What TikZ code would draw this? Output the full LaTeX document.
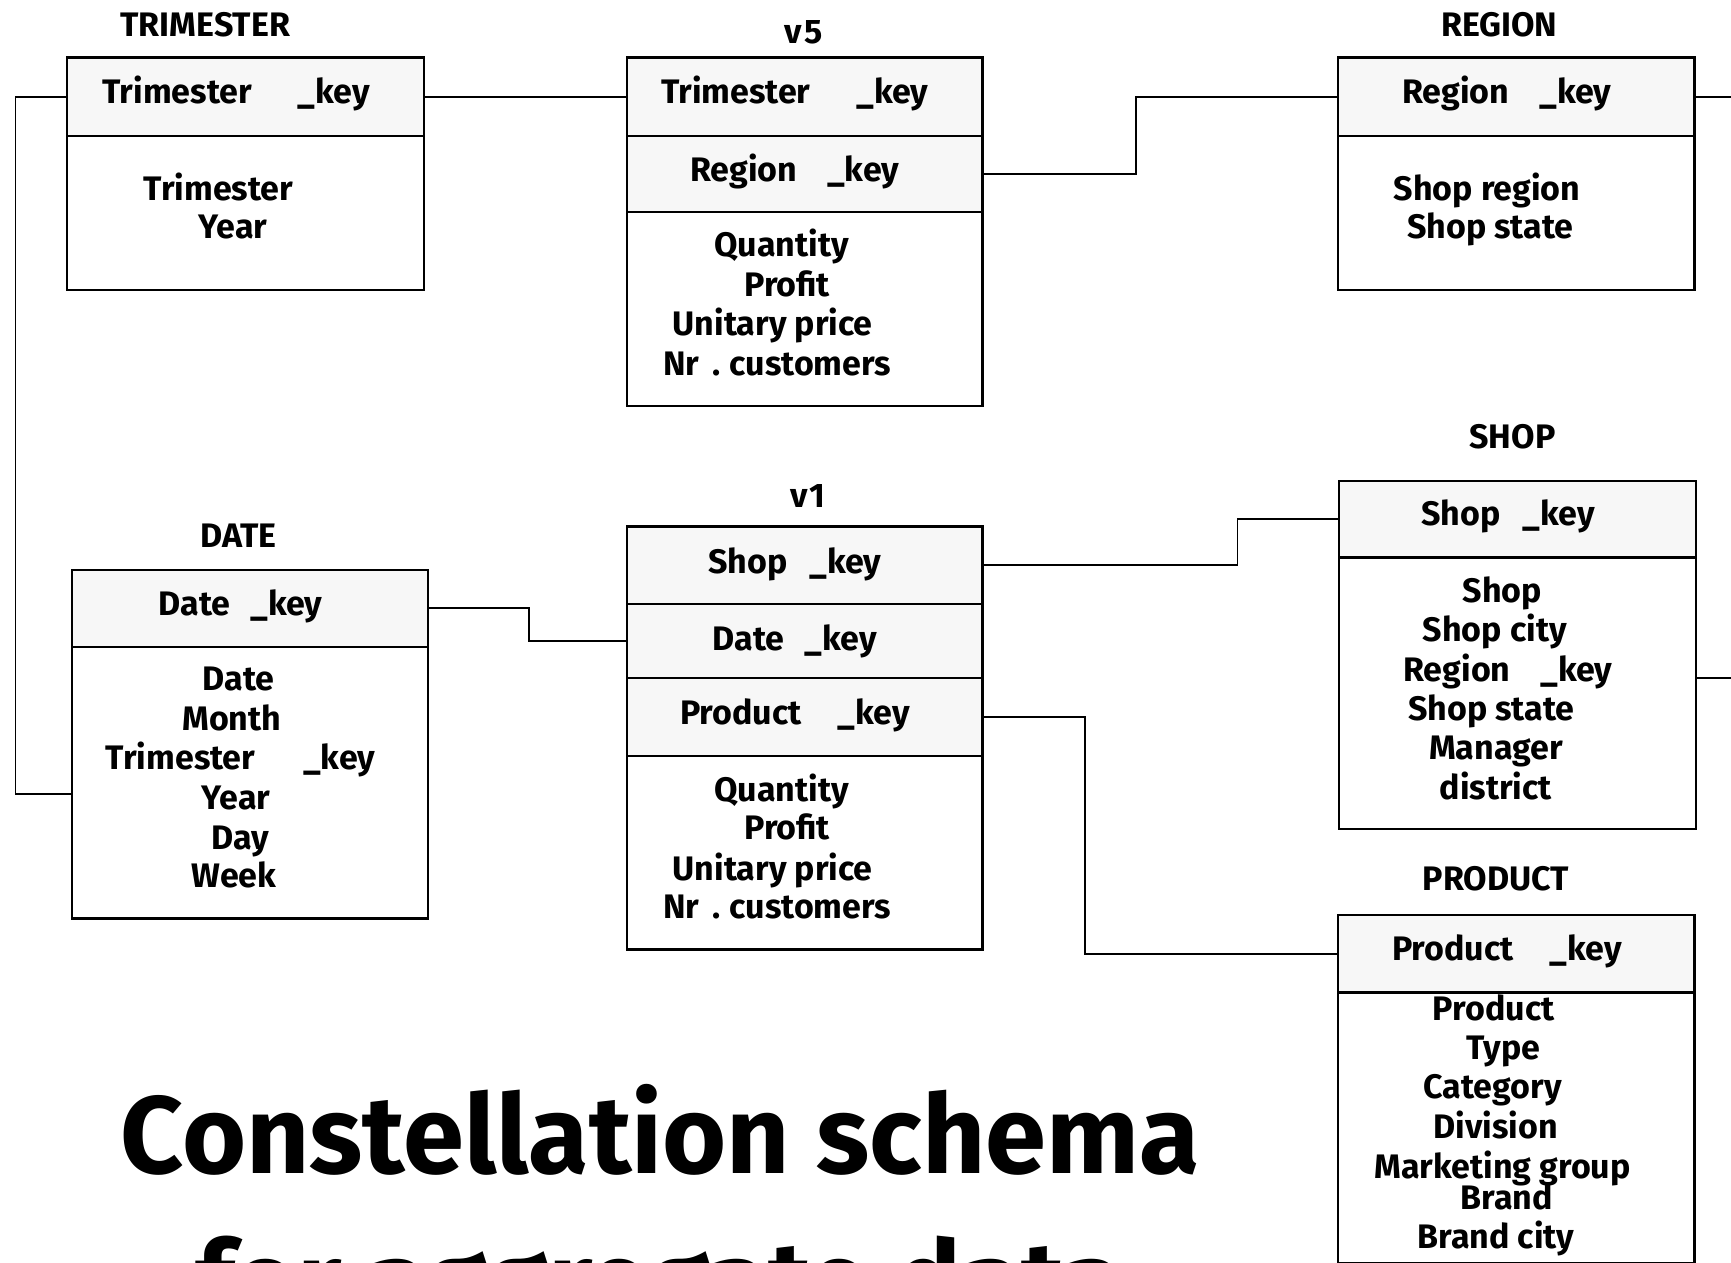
\documentclass[tikz,border=0pt]{standalone}
\usepackage{fontspec}
\setmainfont{Fira Sans}
\newlength\px
\setlength\px{1.104pt}
\definecolor{keyfill}{RGB}{247,247,247}
\newcommand\kgap[1]{\hspace{#1pt}}
\tikzset{
  cell/.style={draw=black, line width=2.2pt, inner sep=0pt, anchor=north west, fill=white},
  keycell/.style={cell, fill=keyfill},
  link/.style={draw=black, line width=1.9pt},
  txt/.style={font=\fontsize{34}{40}\selectfont\bfseries, inner sep=0pt, anchor=mid, yshift=-9.9pt},
  big/.style={font=\fontsize{110}{120}\selectfont\bfseries, inner sep=0pt, anchor=base}
}
\begin{document}
\begin{tikzpicture}[x=1.104pt,y=-1.104pt]
\useasboundingbox (0,0) rectangle (1568,1144);
\clip (0,0) rectangle (1568,1144);
\fill[white] (0,0) rectangle (1568,1144);
\coordinate (edgeR) at (1575,0);

% ---- tables: one node per compartment ----
% TRIMESTER
\node[keycell, minimum width=323*\px, minimum height=71*\px] (th) at (60,51) {};
\node[cell, minimum width=323*\px, minimum height=140*\px] (tb) at (60,122) {};
% v5
\node[keycell, minimum width=322*\px, minimum height=71*\px] (v5a) at (567,51) {};
\node[keycell, minimum width=322*\px, minimum height=69*\px] (v5b) at (567,122) {};
\node[cell, minimum width=322*\px, minimum height=176*\px] (v5c) at (567,191) {};
% REGION
\node[keycell, minimum width=323*\px, minimum height=71*\px] (rh) at (1211,51) {};
\node[cell, minimum width=323*\px, minimum height=140*\px] (rb) at (1211,122) {};
% DATE
\node[keycell, minimum width=323*\px, minimum height=70*\px] (dh) at (64,515) {};
\node[cell, minimum width=323*\px, minimum height=246*\px] (db) at (64,585) {};
% v1
\node[keycell, minimum width=322*\px, minimum height=70*\px] (v1a) at (567,476) {};
\node[keycell, minimum width=322*\px, minimum height=67*\px] (v1b) at (567,546) {};
\node[keycell, minimum width=322*\px, minimum height=71*\px] (v1c) at (567,613) {};
\node[cell, minimum width=322*\px, minimum height=175*\px] (v1d) at (567,684) {};
% SHOP
\node[keycell, minimum width=323*\px, minimum height=69*\px] (sh) at (1212,435) {};
\node[cell, minimum width=323*\px, minimum height=246*\px] (sb) at (1212,504) {};
% PRODUCT
\node[keycell, minimum width=323*\px, minimum height=70*\px] (ph) at (1211,828) {};
\node[cell, minimum width=323*\px, minimum height=245*\px] (pb) at (1211,898) {};

% ---- connectors ----
\draw[link] (th.east) -- (v5a.west);
\draw[link] (th.west) -- ++(-46,0) |- ([yshift=-10*\px]db.west);
\draw[link] (v5b.east) -- ++(138,0) |- (rh.west);
\draw[link] (rh.east) -- (rh.east -| edgeR);
\draw[link] (dh.east) -- ++(90,0) |- (v1b.west);
\draw[link] (v1a.east) -- ++(230,0) |- (sh.west);
\draw[link] (v1c.east) -- ++(92,0) |- (ph.west);
\draw[link] ([yshift=14*\px]sb.east) -- ([yshift=14*\px]sb.east -| edgeR);

% ---- table titles ----
\node[txt] (ttrim) at (186,22) {TRIMESTER};
\node[txt] (tv5) at (728,28) {v\kern2pt5};
\node[txt] (treg) at (1358,22) {REGION};
\node[txt] (tshop) at (1370,395) {SHOP};
\node[txt] (tdate) at (216,485) {DATE};
\node[txt] (tv1) at (732,448) {v\kern2pt1};
\node[txt] (tprod) at (1355,795) {PRODUCT};

% ---- key rows ----
\node[txt] (kth) at (214,82) {Trimester\kgap{46}\_key};
\node[txt] (kv5a) at (720,82) {Trimester\kgap{46}\_key};
\node[txt] (kv5b) at (720,153) {Region\kgap{30}\_key};
\node[txt] (krh) at (1365,82) {Region\kgap{30}\_key};
\node[txt] (kdh) at (218,546) {Date\kgap{20}\_key};
\node[txt] (kv1a) at (720,508) {Shop\kgap{22}\_key};
\node[txt] (kv1b) at (720,578) {Date\kgap{20}\_key};
\node[txt] (kv1c) at (720,645) {Product\kgap{36}\_key};
\node[txt] (ksh) at (1366,465) {Shop\kgap{22}\_key};
\node[txt] (kph) at (1365,859) {Product\kgap{36}\_key};

% ---- attribute rows ----
\foreach \x/\y/\t [count=\i] in {198/170/Trimester, 211/205/Year}
  \node[txt] (atr\i) at (\x,\y) {\t};
\foreach \x/\y/\t [count=\i] in {708/221/Quantity, 713/257/Profit, 700/293/Unitary price, 704/329/Nr\kgap{13}.\kgap{9}customers}
  \node[txt] (av5\i) at (\x,\y) {\t};
\foreach \x/\y/\t [count=\i] in {1347/170/Shop region, 1350/205/Shop state}
  \node[txt] (are\i) at (\x,\y) {\t};
\foreach \x/\y/\t [count=\i] in {216/614/Date, 210/650/Month, 218/686/Trimester\kgap{48}\_key, 214/722/Year, 218/758/Day, 212/793/Week}
  \node[txt] (ada\i) at (\x,\y) {\t};
\foreach \x/\y/\t [count=\i] in {708/715/Quantity, 713/749/Profit, 700/786/Unitary price, 704/821/Nr\kgap{13}.\kgap{9}customers}
  \node[txt] (av1\i) at (\x,\y) {\t};
\foreach \x/\y/\t [count=\i] in {1361/534/Shop, 1354/570/Shop city, 1366/606/Region\kgap{30}\_key, 1351/641/Shop state, 1355/677/Manager, 1355/713/district}
  \node[txt] (ash\i) at (\x,\y) {\t};
\foreach \x/\y/\t [count=\i] in {1353/913/Product, 1362/948/Type, 1352/984/Category, 1355/1020/Division, 1361/1056/Marketing group, 1365/1084/Brand, 1355/1120/Brand city}
  \node[txt] (apr\i) at (\x,\y) {\t};

% ---- heading ----
\node[big] (head1) at (598,1063) {Constellation schema};
\node[big] (head2) at (597,1195) {for aggregate data};
\end{tikzpicture}
\end{document}
